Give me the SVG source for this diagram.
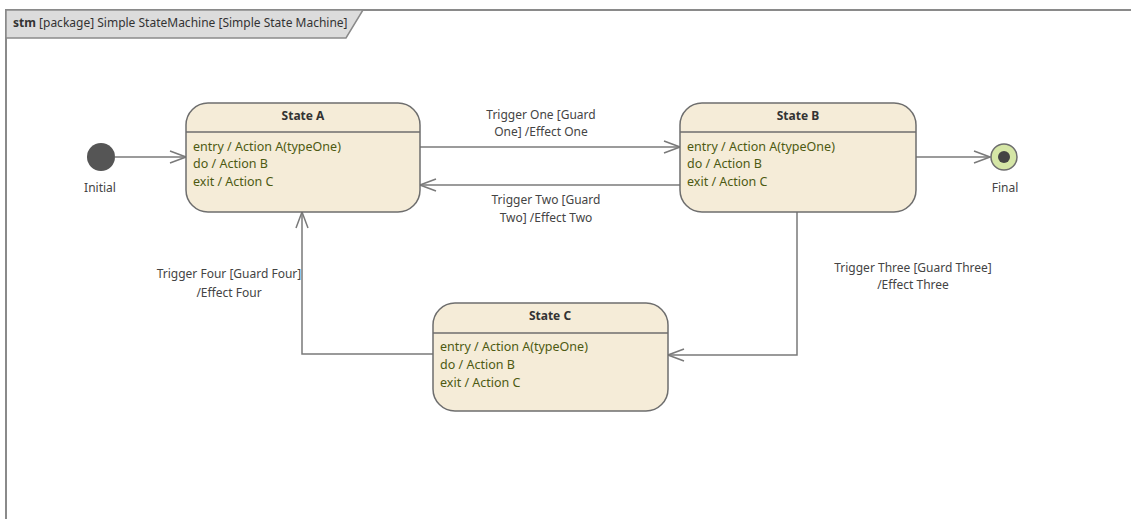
<svg xmlns="http://www.w3.org/2000/svg" width="1131" height="519" viewBox="0 0 1131 519">
<style>
.frame{fill:none;stroke:#8a8a8a;stroke-width:2}
.state{fill:#f5ecd8;stroke:#6e6e6e;stroke-width:1.5}
.sep{stroke:#6e6e6e;stroke-width:1.5}
.title{font-family:"Noto Sans","Liberation Sans",Arial,sans-serif;font-size:12px;font-weight:bold;fill:#333;text-anchor:middle}
.body{font-family:"Noto Sans","Liberation Sans",Arial,sans-serif;font-size:12.5px;fill:#4d5a12}
.lbl{font-family:"Noto Sans","Liberation Sans",Arial,sans-serif;font-size:12px;fill:#444;text-anchor:middle}
.conn{fill:none;stroke:#7a7a7a;stroke-width:1.5}
</style>
<defs>
<marker id="open" viewBox="0 0 18 14" refX="17" refY="7" markerWidth="18" markerHeight="14" markerUnits="userSpaceOnUse" orient="auto">
<path d="M1,1 L17,7 L1,13" fill="none" stroke="#7a7a7a" stroke-width="1.5"/>
</marker>
</defs>
<rect width="1131" height="519" fill="#ffffff"/>
<g id="frame">
<path d="M6,519 L6,10 L1131,10" class="frame"/>
<path d="M6,10 L363,10 L346,38 L6,38 Z" fill="#dcdcdc" stroke="#8a8a8a" stroke-width="1.5"/>
<text x="13" y="27" font-family="Noto Sans,Liberation Sans,Arial,sans-serif" font-size="12" fill="#333"><tspan font-weight="bold">stm</tspan> [package] Simple StateMachine [Simple State Machine]</text>
</g>
<g id="connectors">
<line x1="115" y1="157" x2="186" y2="157" class="conn" marker-end="url(#open)"/>
<line x1="420" y1="147" x2="680" y2="147" class="conn" marker-end="url(#open)"/>
<line x1="680" y1="185" x2="420" y2="185" class="conn" marker-end="url(#open)"/>
<line x1="916" y1="157" x2="990" y2="157" class="conn" marker-end="url(#open)"/>
<polyline points="797,212 797,355 668,355" class="conn" marker-end="url(#open)"/>
<polyline points="433,354 302,354 302,212" class="conn" marker-end="url(#open)"/>
<text class="lbl" x="541" y="119">Trigger One [Guard</text>
<text class="lbl" x="541" y="136">One] /Effect One</text>
<text class="lbl" x="546" y="204">Trigger Two [Guard</text>
<text class="lbl" x="546" y="222">Two] /Effect Two</text>
<text class="lbl" x="913" y="272">Trigger Three [Guard Three]</text>
<text class="lbl" x="913" y="289">/Effect Three</text>
<text class="lbl" x="229" y="278">Trigger Four [Guard Four]</text>
<text class="lbl" x="229" y="297">/Effect Four</text>
</g>
<g id="initial">
<circle cx="101" cy="157" r="14" fill="#555555"/>
<text class="lbl" x="100" y="192">Initial</text>
</g>
<g id="final">
<circle cx="1004" cy="157" r="13" fill="#d5e6a6" stroke="#6e6e6e" stroke-width="1.5"/>
<circle cx="1004" cy="157" r="6" fill="#444444"/>
<text class="lbl" x="1005" y="192">Final</text>
</g>
<g id="stateA">
<rect x="186" y="103" width="234" height="109" rx="22" ry="22" class="state"/>
<line x1="186" y1="132" x2="420" y2="132" class="sep"/>
<text class="title" x="303" y="120">State A</text>
<text class="body" x="193" y="151">entry / Action A(typeOne)</text>
<text class="body" x="193" y="168">do / Action B</text>
<text class="body" x="193" y="186">exit / Action C</text>
</g>
<g id="stateB">
<rect x="680" y="103" width="236" height="109" rx="22" ry="22" class="state"/>
<line x1="680" y1="132" x2="916" y2="132" class="sep"/>
<text class="title" x="798" y="120">State B</text>
<text class="body" x="687" y="151">entry / Action A(typeOne)</text>
<text class="body" x="687" y="168">do / Action B</text>
<text class="body" x="687" y="186">exit / Action C</text>
</g>
<g id="stateC">
<rect x="433" y="303" width="235" height="108" rx="22" ry="22" class="state"/>
<line x1="433" y1="333" x2="668" y2="333" class="sep"/>
<text class="title" x="550" y="320">State C</text>
<text class="body" x="440" y="351">entry / Action A(typeOne)</text>
<text class="body" x="440" y="369">do / Action B</text>
<text class="body" x="440" y="387">exit / Action C</text>
</g>
</svg>
